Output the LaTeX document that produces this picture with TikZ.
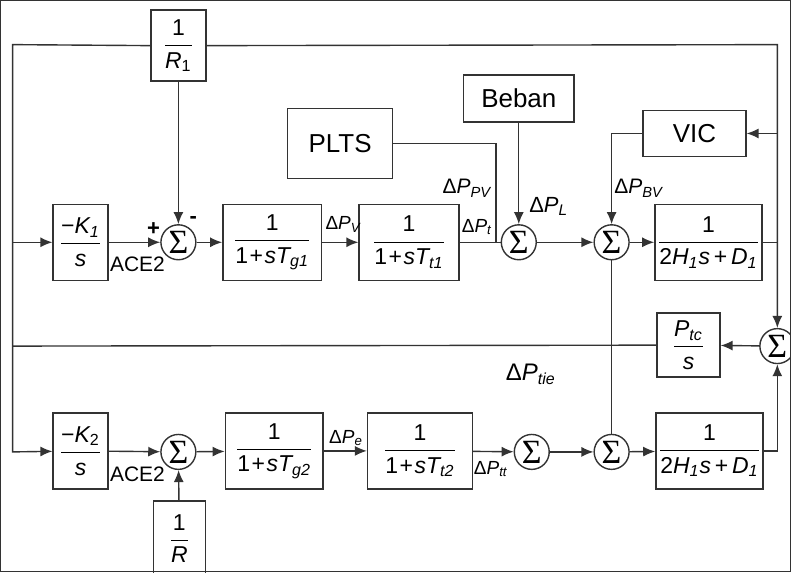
\documentclass[tikz,border=0pt]{standalone}
\usepackage{amsmath}
\usepackage{fontspec}
\setmainfont{Liberation Sans}
\newfontfamily\sigfont{Liberation Serif}
\usepackage{tikz}
\usetikzlibrary{arrows.meta, positioning, calc}

\newcommand{\tx}[1]{\text{#1}}
\newcommand{\vi}[1]{\text{\itshape #1}}
\newcommand{\dP}[1]{$\tx{Δ}\vi{P}_{\vi{#1}}$}
\newcommand{\pl}{\tx{\kern0.8pt+\kern0.8pt}}

\begin{document}
\begin{tikzpicture}[
  x=0.5pt, y=-0.5pt,
  box/.style={draw, minimum width=50pt, minimum height=38pt, inner sep=1pt,
              font=\fontsize{11.5}{13}\selectfont, align=center},
  word/.style={box, font=\fontsize{13}{15}\selectfont},
  sm/.style={draw, circle, minimum size=17.5pt, inner sep=0pt,
             font=\sigfont\fontsize{17}{17}\selectfont},
  lab/.style={inner sep=0pt, font=\fontsize{10.5}{12}\selectfont},
  small/.style={lab, font=\fontsize{9.5}{11}\selectfont},
  every path/.style={line width=0.7pt, draw=black!80},
  >={Latex[length=6pt,width=5pt]},
]
\useasboundingbox (0,0) rectangle (791,572);

% area 1
\node[box, minimum width=27.5pt, minimum height=35.5pt] (r1) at (178,45) {$\dfrac{\tx{1}}{\vi{R}_{\tx{1}}}$};
\node[box, minimum width=27.5pt] (k1) at (80,242) {$\dfrac{\tx{−}\vi{K}_{\vi{1}}}{\vi{s}}$};
\node[sm] (s1) at (178,242) {Σ};
\node[box, minimum width=49.5pt] (tg1) at (272,242) {$\dfrac{\tx{1}}{\tx{1}\pl\vi{sT}_{\vi{g1}}}$};
\node[box] (tt1) at (409,242) {$\dfrac{\tx{1}}{\tx{1}\pl\vi{sT}_{\vi{t1}}}$};
\node[word, minimum width=52.5pt, minimum height=35pt] (plts) at (340,143) {PLTS};
\node[sm] (s2) at (519,242) {Σ};
\node[word, minimum width=55.5pt, minimum height=23.5pt] (beban) at (519,98) {Beban};
\node[sm] (s3) at (612,242) {Σ};
\node[word, minimum width=51.5pt, minimum height=23pt] (vic) at (695,133) {VIC};
\node[box, minimum width=51.5pt] (h1) at (709,242) {$\dfrac{\tx{1}}{\tx{2}\vi{H}_{\vi{1}}\vi{s}\tx{\,+\,}\vi{D}_{\vi{1}}}$};

% tie line
\node[sm] (s4) at (778,346) {Σ};
\node[box, minimum width=31.5pt, minimum height=32pt] (ptc) at (689,345) {$\dfrac{\vi{P}_{\vi{tc}}}{\vi{s}}$};

% area 2
\node[box, minimum width=27.5pt] (k2) at (80,451) {$\dfrac{\tx{−}\vi{K}_{\tx{2}}}{\vi{s}}$};
\node[sm] (s5) at (178,452) {Σ};
\node[box, minimum width=26pt] (r) at (179,539) {$\dfrac{\tx{1}}{\vi{R}}$};
\node[box, minimum width=49pt] (tg2) at (274,451) {$\dfrac{\tx{1}}{\tx{1}\pl\vi{sT}_{\vi{g2}}}$};
\node[box, minimum width=52.5pt] (tt2) at (420,451) {$\dfrac{\tx{1}}{\tx{1}\pl\vi{sT}_{\vi{t2}}}$};
\node[sm] (s7) at (532,452) {Σ};
\node[sm] (s6) at (612,452) {Σ};
\node[box, minimum width=52pt] (h2) at (710,451) {$\dfrac{\tx{1}}{\tx{2}\vi{H}_{\vi{1}}\vi{s}\tx{\,+\,}\vi{D}_{\vi{1}}}$};

% labels
\node[lab, font=\bfseries\fontsize{11}{11}\selectfont] (plus) at (153,229) {+};
\node[lab, font=\bfseries\fontsize{11}{11}\selectfont] (minus) at (193,220) {-};
\node[small, font=\fontsize{10.5}{12}\selectfont] (ace1) at (137,264) {ACE2};
\node[small, font=\fontsize{10.5}{12}\selectfont] (ace2) at (137,474) {ACE2};
\node[small] (lpv) at (343,224) {\dP{V}};
\node[small] (lpt) at (477,227) {\dP{t}};
\node[lab] (lppv) at (467,188) {\dP{PV}};
\node[lab, font=\fontsize{11}{12}\selectfont] (lpl) at (549,206) {\dP{L}};
\node[lab] (lpbv) at (639,188) {\dP{BV}};
\node[lab, font=\fontsize{12}{13}\selectfont] (ltie) at (531,374) {\dP{tie}};
\node[small] (lpe) at (346,438) {\dP{e}};
\node[small] (lptt) at (491,469) {\dP{tt}};

% corners
\coordinate (tl) at (12,44);
\coordinate (tr) at (778,44);
\coordinate (bl) at (12,452);
\coordinate (ml) at (12,242);
\coordinate (pl) at (12,346);
\coordinate (vr) at (778,133);
\coordinate (hr) at (778,242);
\coordinate (pc) at (496,143);
\coordinate (pj) at (496,242);

% connectors
\draw[->] (r1.west) -- (tl) -- (bl) -- (k2);
\draw[->] (ml) -- (k1);
\draw (ptc) -- (pl);
\draw[->] (r1.east) -- (tr) -- (s4);
\draw[->] (vr) -- (vic);
\draw (h1) -- (hr);
\draw[->] (r1) -- (s1);
\draw[->] (k1) -- (s1);
\draw[->] (s1) -- (tg1);
\draw[->] (tg1) -- (tt1);
\draw (tt1) -- (s2);
\draw (plts) -- (pc) -- (pj);
\draw[->] (beban) -- (s2);
\draw[->] (s2) -- (s3);
\draw[->] (vic.west) -| (s3.north);
\draw[->] (s3) -- (h1);
\draw (s3) -- (s6);
\draw[->] (s4) -- (ptc);
\draw[->] (k2) -- (s5);
\draw[->] (r) -- (s5);
\draw[->] (s5) -- (tg2);
\draw[->] (tg2) -- (tt2);
\draw[->] (tt2) -- (s7);
\draw[->] (s7) -- (s6);
\draw[->] (s6) -- (h2);
\draw[->] (h2.east) -| (s4.south);
\end{tikzpicture}
\end{document}
